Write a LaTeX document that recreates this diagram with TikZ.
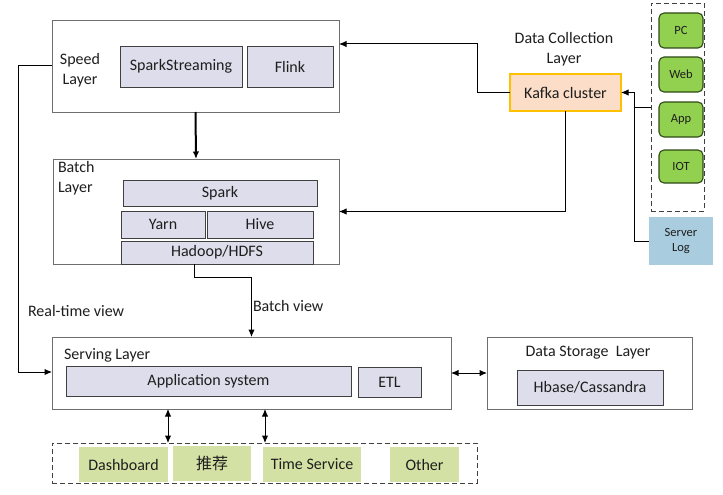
\documentclass[tikz,border=0pt]{standalone}
\usepackage{fontspec}
\setmainfont{Carlito}
\newfontfamily\cjk{Noto Sans CJK SC}
\usetikzlibrary{arrows.meta,calc}
\definecolor{graybox}{HTML}{DDDDEB}
\definecolor{grayline}{HTML}{404040}
\definecolor{outline}{HTML}{6E6E6E}
\definecolor{kafkafill}{HTML}{FBDDC8}
\definecolor{kafkaline}{HTML}{FFC000}
\definecolor{srcgreen}{HTML}{92D050}
\definecolor{srcline}{HTML}{2F4A17}
\definecolor{appgreen}{HTML}{D4E1A5}
\definecolor{logblue}{HTML}{A9CCDE}
\definecolor{txt}{HTML}{1E1E1E}
\begin{document}
\begin{tikzpicture}[x=1pt,y=-1pt,
  every node/.style={text=txt, inner sep=0pt, outer sep=0pt},
  layerbox/.style={draw=outline, line width=0.9pt, fill=white, anchor=north west},
  techbox/.style={draw=grayline, line width=0.9pt, fill=graybox, anchor=north west, font=\fontsize{16}{19}\selectfont},
  srcbox/.style={draw=srcline, line width=1.1pt, fill=srcgreen, rounded corners=5pt, anchor=north west, font=\fontsize{12.5}{15}\selectfont},
  appbox/.style={fill=appgreen, anchor=north west, font=\fontsize{16}{19}\selectfont},
  lbl/.style={font=\fontsize{16}{20}\selectfont},
  arr/.style={draw=black, line width=1pt, -{Latex[length=7.5pt,width=6.5pt]}},
  dbl/.style={draw=black, line width=1pt, {Latex[length=7.5pt,width=6.5pt]}-{Latex[length=7.5pt,width=6.5pt]}},
  dashbox/.style={draw=grayline, line width=0.9pt, dash pattern=on 5pt off 3pt, anchor=north west}
]
\useasboundingbox (0,0) rectangle (723,495);

% Speed layer
\node[layerbox, minimum width=287pt, minimum height=92pt] (speed) at (52,20) {};
\node[lbl, align=center] (speedlbl) at (80,70) {Speed\\Layer};
\node[techbox, minimum width=122pt, minimum height=41pt] (sstream) at (120,46) {SparkStreaming};
\node[techbox, minimum width=86pt, minimum height=41pt] (flink) at (247,46) {Flink};

% Batch layer
\node[layerbox, minimum width=286pt, minimum height=105pt] (batch) at (53,159) {};
\node[lbl, align=left, anchor=north west] (batchlbl) at (58,161) {Batch\\Layer};
\node[techbox, minimum width=194pt, minimum height=26pt] (spark) at (123,180) {Spark};
\node[techbox, minimum width=84pt, minimum height=27pt] (yarn) at (121,211) {Yarn};
\node[techbox, minimum width=106pt, minimum height=27pt] (hive) at (207,211) {Hive};
\node[techbox, minimum width=192pt, minimum height=23pt] (hdfs) at (121,241) {Hadoop/HDFS};

% Serving layer
\node[layerbox, minimum width=399pt, minimum height=72pt] (serving) at (52,337) {};
\node[lbl, anchor=west] (servlbl) at (64,355) {Serving Layer};
\node[techbox, minimum width=285pt, minimum height=30pt] (appsys) at (66,366) {Application system};
\node[techbox, minimum width=63pt, minimum height=30pt] (etl) at (358,367) {ETL};

% Data storage layer
\node[layerbox, minimum width=205pt, minimum height=72pt] (storage) at (487,337) {};
\node[lbl] (storlbl) at (588,353) {Data Storage\ \ Layer};
\node[techbox, minimum width=146pt, minimum height=35pt] (hbase) at (517,370) {Hbase/Cassandra};

% Applications
\node[dashbox, minimum width=425pt, minimum height=40pt] (bot) at (52,443) {};
\node[appbox, minimum width=89pt, minimum height=35pt] (dash) at (79,447) {Dashboard};
\node[appbox, minimum width=78pt, minimum height=35pt] (tj) at (173,446) {\cjk 推荐};
\node[appbox, minimum width=98pt, minimum height=35pt] (tsvc) at (263,447) {Time Service};
\node[appbox, minimum width=69pt, minimum height=35pt] (other) at (390,447) {Other};

% Data collection
\node[lbl, align=center] (dclbl) at (564,49) {Data Collection\\Layer};
\node[draw=kafkaline, line width=1.3pt, fill=kafkafill, anchor=north west, minimum width=111pt, minimum height=37pt, font=\fontsize{16}{19}\selectfont] (kafka) at (510,74) {Kafka cluster};

% Sources
\node[dashbox, minimum width=53pt, minimum height=208pt] (src) at (651,3) {};
\node[srcbox, minimum width=44pt, minimum height=35pt] (pc) at (659,13) {PC};
\node[srcbox, minimum width=44pt, minimum height=35pt] (web) at (659,57) {Web};
\node[srcbox, minimum width=44pt, minimum height=35pt] (app) at (659,102) {App};
\node[srcbox, minimum width=44pt, minimum height=33pt] (iot) at (659,150) {IOT};
\node[fill=logblue, anchor=north west, minimum width=64pt, minimum height=48pt, align=center, font=\fontsize{12.5}{15}\selectfont] (slog) at (649,217) {Server\\Log};

% Connectors
\draw[arr, line width=2pt] (speed.south) -- (batch.north);
\draw[arr] ($(hdfs.south west)!0.385!(hdfs.south east)$) -- ++(0,13) -| (serving.north);
\node[lbl, anchor=west] (bview) at (253,306) {Batch view};
\draw[arr] (speed.west) -- ++(-34,0) |- ($(serving.west)+(0,-1)$);
\node[lbl, anchor=west] (rtview) at (28,311) {Real-time view};
\draw[arr] (kafka.west) -- ++(-33,0) |- ($(speed.north east)+(0,24)$);
\draw[arr] (kafka.south) |- (batch.east);
\coordinate (srcout) at ($(src.north west)+(0,104)$);
\coordinate (join) at ($(kafka.east)+(13,0)$);
\draw[arr] (srcout) -- (srcout -| join) -- (join) -- (kafka.east);
\draw[line width=1pt] (slog.west) -| (join);
\draw[dbl] (serving.east) -- (storage.west);
\draw[dbl] (serving.south -| dash.east) -- (bot.north -| dash.east);
\draw[dbl] ($(serving.south -| tsvc.west)+(2,0)$) -- ($(bot.north -| tsvc.west)+(2,0)$);
\end{tikzpicture}
\end{document}
